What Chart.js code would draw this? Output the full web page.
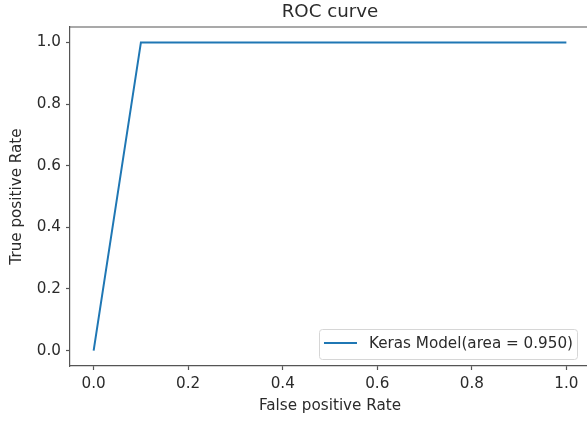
<!DOCTYPE html>
<html>
<head>
<meta charset="utf-8">
<title>ROC curve</title>
<script src="https://cdn.jsdelivr.net/npm/chart.js@4.4.1/dist/chart.umd.min.js"></script>
<style>
  html, body { margin: 0; padding: 0; overflow: hidden; background: #fff; }
  #wrap { width: 600px; height: 423px; }
</style>
</head>
<body>
<div id="wrap"><canvas id="myChart" width="600" height="423"></canvas></div>
<script>
// dados da curva ROC
const fpr = [0.0, 0.1, 1.0];
const tpr = [0.0, 1.0, 1.0];
const xTicks = [0.0, 0.2, 0.4, 0.6, 0.8, 1.0];
const yTicks = [0.0, 0.2, 0.4, 0.6, 0.8, 1.0];
const seriesLabel = 'Keras Model(area = 0.950)';
const chartTitle = 'ROC curve';
const xLabel = 'False positive Rate';
const yLabel = 'True positive Rate';

const FONT = "'DejaVu Sans', sans-serif";
const FS = 15.2;
const TXT = '#2b2b2b';
const AXIS = '#555';
const BLUE = '#1f77b4';

// spine de cima, titulo e legenda dentro do grafico (estilo matplotlib)
const mplExtras = {
  id: 'mplExtras',
  afterDraw(chart) {
    const { ctx, chartArea: a } = chart;
    ctx.save();
    ctx.strokeStyle = AXIS;
    ctx.lineWidth = 1.2;
    ctx.beginPath();
    ctx.moveTo(a.left, a.top);
    ctx.lineTo(a.right + 1, a.top);
    ctx.stroke();

    ctx.fillStyle = TXT;
    ctx.font = (FS * 1.2) + 'px ' + FONT;
    ctx.textAlign = 'center';
    ctx.textBaseline = 'middle';
    ctx.fillText(chartTitle, (a.left + a.right) / 2, 12);

    // legenda
    const ds = chart.data.datasets[0];
    ctx.font = FS + 'px ' + FONT;
    const tw = ctx.measureText(ds.label).width;
    const right = a.right - 13, bottom = a.bottom - 7;
    const w = tw + 54, h = 30;
    const left = right - w, top = bottom - h;
    ctx.beginPath();
    ctx.roundRect(left + 0.5, top + 0.5, w, h, 3);
    ctx.fillStyle = 'rgba(255,255,255,0.8)';
    ctx.fill();
    ctx.strokeStyle = '#d6d6d6';
    ctx.lineWidth = 1;
    ctx.stroke();
    ctx.strokeStyle = ds.borderColor;
    ctx.lineWidth = 2;
    ctx.beginPath();
    ctx.moveTo(left + 5, top + 14);
    ctx.lineTo(left + 38, top + 14);
    ctx.stroke();
    ctx.fillStyle = TXT;
    ctx.textAlign = 'left';
    ctx.fillText(ds.label, left + 50, top + 15);
    ctx.restore();
  }
};

function axisOpts(ticksArr, label) {
  return {
    type: 'linear',
    min: -0.05,
    max: 1.05,
    afterBuildTicks: s => { s.ticks = ticksArr.map(v => ({ value: v })); },
    grid: { drawOnChartArea: false, drawTicks: true, tickLength: 4, color: AXIS, tickWidth: 1.2 },
    border: { color: AXIS, width: 1.2 },
    ticks: {
      color: TXT,
      font: { family: FONT, size: FS },
      padding: 5,
      autoSkip: false,
      maxRotation: 0,
      callback: v => Number(v).toFixed(1)
    },
    title: {
      display: true,
      text: label,
      color: TXT,
      font: { family: FONT, size: FS },
      padding: { top: 8, bottom: 8 }
    }
  };
}

const xAxis = axisOpts(xTicks, xLabel);
xAxis.afterFit = s => { s.height = 57; };
const yAxis = axisOpts(yTicks, yLabel);
yAxis.afterFit = s => { s.width = 70; };

const ctx = document.getElementById('myChart').getContext('2d');
const myChart = new Chart(ctx, {
  type: 'line',
  data: {
    datasets: [{
      label: seriesLabel,
      data: fpr.map((x, i) => ({ x: x, y: tpr[i] })),
      borderColor: BLUE,
      borderWidth: 2,
      pointRadius: 0,
      tension: 0,
      fill: false
    }]
  },
  options: {
    responsive: false,
    animation: false,
    layout: { padding: { top: 27, right: 10, left: 0, bottom: 0 } },
    plugins: {
      legend: { display: false },
      title: { display: false },
      tooltip: { enabled: false }
    },
    scales: { x: xAxis, y: yAxis }
  },
  plugins: [mplExtras]
});
</script>
</body>
</html>
